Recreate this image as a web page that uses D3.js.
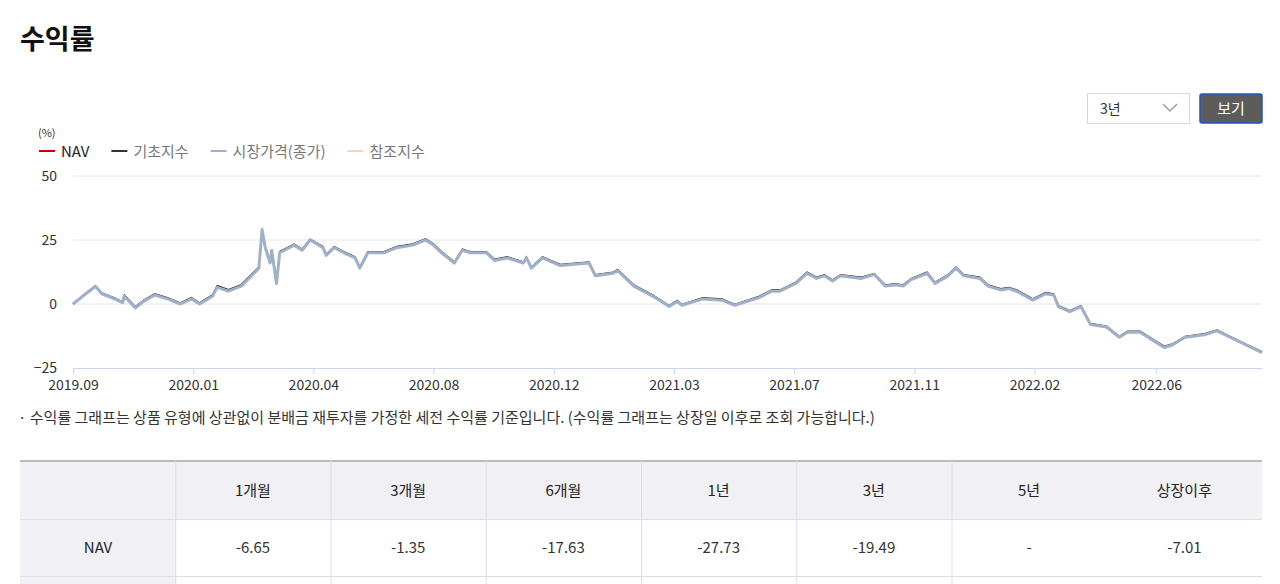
<!DOCTYPE html>
<html>
<head>
<meta charset="utf-8">
<script src="https://cdn.jsdelivr.net/npm/d3@7"></script>
<style>
  body { margin: 0; background: #fff; font-family: "Noto Sans CJK KR", "Noto Sans", sans-serif; overflow: hidden; }
  svg { display: block; }
</style>
</head>
<body>
<svg id="chart" width="1280" height="584"></svg>
<script>
/* global d3 */
// trading-day index of each sample
const days = [0, 8, 14, 18, 26, 31, 32, 39, 44, 51, 59, 67, 74, 79, 87, 90, 97, 105, 113, 116,
  118, 120, 123, 124, 127, 129, 138, 143, 148, 156, 158, 163, 169, 176, 179, 184, 194, 202, 212, 220,
  225, 230, 238, 243, 248, 258, 263, 271, 281, 283, 286, 293, 304, 322, 326, 337, 340, 350, 362, 372,
  377, 380, 393, 405, 413, 428, 436, 441, 451, 458, 464, 469, 474, 479, 492, 500, 507, 513, 518, 523,
  533, 538, 546, 551, 556, 566, 571, 579, 584, 589, 599, 607, 612, 615, 622, 629, 635, 645, 653, 658,
  666, 676, 681, 686, 694, 706, 714, 722, 732, 742];
const priceValues = [0, 4, 6.8, 4, 2, 0.5, 3, -1.5, 1, 3.5, 2, 0, 2, 0, 3, 6.5, 5, 7, 12, 14,
  29, 22, 16, 21, 8, 20, 23, 21, 25, 22, 19, 22, 20, 18, 14, 20, 20, 22, 23, 25,
  23, 20, 16, 21, 20, 20, 17, 18, 16, 18, 14, 18, 15, 16, 11, 12, 13, 7, 3, -1,
  1, -0.5, 2, 1.5, -0.5, 2.5, 5, 5, 8, 12, 10, 11, 9, 11, 10, 11.5, 7, 7.5, 7, 9.5,
  12, 8, 11, 14, 11, 10, 7, 5.5, 6, 5, 1.5, 4, 3.5, -1, -3, -1, -8, -9, -13, -11,
  -11, -15, -17, -16, -13, -12, -10.5, -13, -16, -19];
const navValues = [0, 4.2, 7, 4.2, 2.2, 0.7, 3.3, -1.2, 1.3, 3.8, 2.3, 0.3, 2.4, 0.3, 3.4, 7, 5.4, 7.4, 12.4, 14.3,
  28.5, 22.3, 16.4, 21.3, 8.3, 20.4, 23.3, 21.3, 25.2, 22.3, 19.3, 22.3, 20.3, 18.3, 14.3, 20.3, 20.3, 22.3, 23.3, 25.3,
  23.3, 20.3, 16.3, 21.3, 20.3, 20.3, 17.3, 18.3, 16.3, 18.3, 14.3, 18.3, 15.3, 16.3, 11.3, 12.3, 13.3, 7.3, 3.3, -0.8,
  1.3, -0.3, 2.3, 1.8, -0.3, 2.8, 5.3, 5.3, 8.3, 12.3, 10.3, 11.3, 9.3, 11.3, 10.3, 11.7, 7.3, 7.8, 7.3, 9.8,
  12.3, 8.3, 11.3, 14.2, 11.3, 10.3, 7.3, 5.8, 6.3, 5.3, 1.8, 4.3, 3.8, -0.8, -2.8, -0.8, -7.8, -8.8, -12.8, -10.8,
  -10.8, -14.8, -16.6, -15.8, -12.8, -11.8, -10.3, -12.8, -15.8, -18.8];
const indexValues = [0, 4.3, 7.2, 4.4, 2.4, 0.9, 3.5, -1, 1.5, 4, 2.5, 0.5, 2.6, 0.5, 3.6, 7.2, 5.6, 7.6, 12.6, 14.5,
  29.5, 22.5, 16.6, 21.5, 7.5, 20.6, 23.5, 21.5, 25.4, 22.5, 19.5, 22.5, 20.5, 18.5, 14.5, 20.5, 20.5, 22.5, 23.5, 25.5,
  23.5, 20.5, 16.5, 21.5, 20.5, 20.5, 17.5, 18.5, 16.5, 18.5, 14.5, 18.5, 15.5, 16.5, 11.5, 12.5, 13.5, 7.5, 3.5, -0.6,
  1.5, -0.1, 2.5, 2, -0.1, 3, 5.5, 5.5, 8.5, 12.5, 10.5, 11.5, 9.5, 11.5, 10.5, 11.9, 7.5, 8, 7.5, 10,
  12.5, 8.5, 11.5, 14.5, 11.5, 10.5, 7.5, 6, 6.5, 5.5, 2, 4.5, 4, -0.6, -2.6, -0.6, -7.6, -8.6, -12.6, -10.6,
  -10.6, -14.6, -16.4, -15.6, -12.6, -11.6, -10.1, -12.6, -15.6, -18.6];
const refValues = [];

const tickDays = [0, 75, 150, 225, 300, 375, 450, 525, 600, 676];
const tickLabels = ['2019.09', '2020.01', '2020.04', '2020.08', '2020.12', '2021.03', '2021.07', '2021.11', '2022.02', '2022.06'];
const yTicks = [-25, 0, 25, 50];

const legendItems = [
  { name: 'NAV', color: '#c00000' },
  { name: '기초지수', color: '#333333' },
  { name: '시장가격(종가)', color: '#9fb0c9' },
  { name: '참조지수', color: '#f5d9a0' },
];

const periods = ['1개월', '3개월', '6개월', '1년', '3년', '5년', '상장이후'];
const navReturns = ['-6.65', '-1.35', '-17.63', '-27.73', '-19.49', '-', '-7.01'];

const svg = d3.select('#chart');
const plotLeft = 73;
const plotRight = 1262;
const plotTop = 176;
const plotBottom = 368;

const x = d3.scaleLinear().domain([0, 742]).range([plotLeft, plotRight]);
const y = d3.scaleLinear().domain([-25, 50]).range([plotBottom, plotTop]);

svg.append('text').attr('x', 20).attr('y', 49)
  .attr('font-size', 27).attr('font-weight', 700).attr('fill', '#111').text('수익률');

// select + button
svg.append('rect').attr('x', 1087.5).attr('y', 93.5).attr('width', 102).attr('height', 30)
  .attr('fill', '#fff').attr('stroke', '#d8d8d8');
svg.append('text').attr('x', 1100).attr('y', 114).attr('font-size', 14).attr('fill', '#333').text('3년');
svg.append('path').attr('d', 'M1163,104 L1170,111 L1177,104').attr('fill', 'none')
  .attr('stroke', '#999').attr('stroke-width', 1.3);
svg.append('rect').attr('x', 1200).attr('y', 94).attr('width', 62).attr('height', 29).attr('rx', 2)
  .attr('fill', '#5c5c5c').attr('stroke', '#2456b8').attr('stroke-width', 1.5);
svg.append('text').attr('x', 1231).attr('y', 114).attr('text-anchor', 'middle')
  .attr('font-size', 15).attr('fill', '#fff').text('보기');

// legend
svg.append('text').attr('x', 38).attr('y', 137).attr('font-size', 11).attr('fill', '#333').text('(%)');
let lx = 39;
legendItems.forEach((d) => {
  svg.append('line').attr('x1', lx).attr('x2', lx + 16).attr('y1', 151).attr('y2', 151)
    .attr('stroke', d.color).attr('stroke-width', 2);
  const t = svg.append('text').attr('x', lx + 22).attr('y', 157).attr('font-size', 15)
    .attr('fill', d.name === 'NAV' ? '#222' : '#777').text(d.name);
  lx += 22 + t.node().getComputedTextLength() + 22;
});

// grid + y labels
yTicks.forEach((v) => {
  if (v !== -25) {
    svg.append('line').attr('x1', plotLeft).attr('x2', plotRight).attr('y1', y(v)).attr('y2', y(v))
      .attr('stroke', '#e6e6e6');
  }
  svg.append('text').attr('x', 57).attr('y', y(v) + 5).attr('text-anchor', 'end')
    .attr('font-size', 14).attr('fill', '#333').text(v === -25 ? '−25' : v);
});

// x axis
const xAxis = d3.axisBottom(x).tickValues(tickDays).tickSize(6)
  .tickFormat((d, i) => tickLabels[i]);
const gx = svg.append('g').attr('transform', `translate(0,${plotBottom})`).call(xAxis);
gx.select('.domain').attr('stroke', '#c6d4ec').attr('d', `M${plotLeft},0.5H${plotRight}`);
gx.selectAll('.tick line').attr('stroke', '#c6d4ec');
gx.selectAll('.tick text').attr('font-size', 14).attr('fill', '#333')
  .attr('font-family', '"Noto Sans CJK KR", sans-serif').attr('dy', '0.9em');

const line = d3.line().x((d) => x(d[0])).y((d) => y(d[1]));
const zip = (vals) => vals.map((v, i) => [days[i], v]);

svg.append('path').datum(zip(navValues)).attr('d', line).attr('fill', 'none')
  .attr('stroke', '#c00000').attr('stroke-width', 1.2);
svg.append('path').datum(zip(indexValues)).attr('d', line).attr('fill', 'none')
  .attr('stroke', '#333').attr('stroke-width', 1.2);
svg.append('path').datum(zip(priceValues)).attr('d', line).attr('fill', 'none')
  .attr('stroke', '#9fb0c9').attr('stroke-width', 3).attr('stroke-linejoin', 'round');
if (refValues.length) {
  svg.append('path').datum(zip(refValues)).attr('d', line).attr('fill', 'none')
    .attr('stroke', '#f5d9a0').attr('stroke-width', 1.2);
}

// note
svg.append('text').attr('x', 18).attr('y', 423).attr('font-size', 15).attr('fill', '#333')
  .text('·  수익률 그래프는 상품 유형에 상관없이 분배금 재투자를 가정한 세전 수익률 기준입니다. (수익률 그래프는 상장일 이후로 조회 가능합니다.)');

// table
const colX = d3.range(8).map((i) => 20 + i * 155.25);
const rowY = [461, 519, 576];
svg.append('rect').attr('x', 20).attr('y', rowY[0]).attr('width', 1242).attr('height', rowY[1] - rowY[0])
  .attr('fill', '#f1f1f5');
svg.append('rect').attr('x', 20).attr('y', rowY[1]).attr('width', 156).attr('height', 200)
  .attr('fill', '#f1f1f5');
svg.append('line').attr('x1', 20).attr('x2', 1262).attr('y1', rowY[0]).attr('y2', rowY[0])
  .attr('stroke', '#bbb').attr('stroke-width', 2);
[rowY[1], rowY[2]].forEach((ry) => {
  svg.append('line').attr('x1', 20).attr('x2', 1262).attr('y1', ry + 0.5).attr('y2', ry + 0.5)
    .attr('stroke', '#dedede');
});
colX.slice(1, 7).forEach((cx) => {
  svg.append('line').attr('x1', cx + 0.5).attr('x2', cx + 0.5).attr('y1', rowY[0]).attr('y2', 584)
    .attr('stroke', '#dedede');
});
periods.forEach((p, i) => {
  const cx = (colX[i + 1] + (colX[i + 2] || 1262)) / 2;
  svg.append('text').attr('x', cx).attr('y', 496).attr('text-anchor', 'middle')
    .attr('font-size', 15).attr('fill', '#222').text(p);
  svg.append('text').attr('x', cx).attr('y', 553).attr('text-anchor', 'middle')
    .attr('font-size', 15).attr('fill', '#333').text(navReturns[i]);
});
svg.append('text').attr('x', 98).attr('y', 553).attr('text-anchor', 'middle')
  .attr('font-size', 15).attr('fill', '#222').text('NAV');
</script>
</body>
</html>
